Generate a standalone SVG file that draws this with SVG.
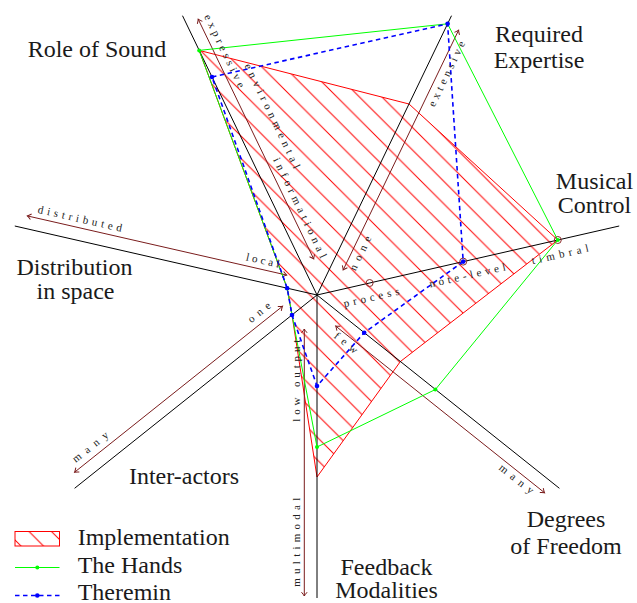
<svg xmlns="http://www.w3.org/2000/svg" width="637" height="603" viewBox="0 0 637 603">
<defs>
<marker id="ah" viewBox="-5 -4 6 8" markerWidth="6" markerHeight="8" refX="0" refY="0" orient="auto-start-reverse" markerUnits="userSpaceOnUse" overflow="visible">
<path d="M-3.8,-2.8 Q-1.2,-0.6 0,0 Q-1.2,0.6 -3.8,2.8" fill="none" stroke="#7a1c1c" stroke-width="1"/>
</marker>
<pattern id="hatch" patternUnits="userSpaceOnUse" x="150" y="0" width="22.5" height="22.5">
<path d="M0,0 L22.5,22.5 M-5,17.5 L5,27.5 M17.5,-5 L27.5,5" stroke="#ff0000" stroke-width="1"/>
</pattern>
</defs>

<g id="implementation">
<polygon fill="url(#hatch)" stroke="#ff0000" stroke-width="1" points="199.2,50.4 409,104 557.8,240 400.4,361.5 317,477 292,315 287.2,288.2"/>
</g>

<g id="axes" stroke="#000" stroke-width="1" fill="none">
<line x1="317" y1="295" x2="182.5" y2="15.7"/>
<line x1="317" y1="295" x2="451.5" y2="15.7"/>
<line x1="317" y1="295" x2="619.2" y2="226"/>
<line x1="317" y1="295" x2="559.4" y2="488.3"/>
<line x1="317" y1="295" x2="317" y2="598"/>
<line x1="317" y1="295" x2="74.6" y2="488.3"/>
<line x1="317" y1="295" x2="14.8" y2="226"/>
</g>

<g id="connectors" stroke="#7a1c1c" stroke-width="1" fill="none" marker-start="url(#ah)" marker-end="url(#ah)">
<line x1="313.7" y1="258.9" x2="198.2" y2="19.2"/>
<line x1="343.2" y1="269.9" x2="458.6" y2="30.2"/>
<line x1="286.7" y1="275.1" x2="27.3" y2="215.9"/>
<line x1="282.5" y1="306.3" x2="74.6" y2="472.2"/>
<line x1="304.3" y1="329" x2="304.3" y2="596"/>
<line x1="335.7" y1="326.1" x2="544.5" y2="492.7"/>
</g>

<g id="musical-marks" fill="none" stroke="#8b2a2a" stroke-width="1">
<circle cx="369.6" cy="283" r="3.5"/>
<circle cx="463.2" cy="261.6" r="3.5"/>
<circle cx="557.8" cy="240" r="3.5"/>
</g>

<g id="the-hands">
<polygon fill="none" stroke="#00ff00" stroke-width="1" points="199.2,50.4 447.6,23.8 557.8,240 435.4,389.5 317,447 292,315 287.2,288.2"/>
<g fill="#00ff00">
<circle cx="199.2" cy="50.4" r="2"/><circle cx="447.6" cy="23.8" r="2"/><circle cx="557.8" cy="240" r="2"/><circle cx="435.4" cy="389.5" r="2"/><circle cx="317" cy="447" r="2"/><circle cx="292" cy="315" r="2"/><circle cx="287.2" cy="288.2" r="2"/>
</g>
</g>

<g id="theremin">
<polygon fill="none" stroke="#0000ff" stroke-width="1.6" stroke-dasharray="4.5 3.5" points="212,77 447.6,23.8 463.2,261.6 364.2,332.7 317,386 292,315 287.2,288.2"/>
<g fill="#0000ff">
<circle cx="212" cy="77" r="2.3"/><circle cx="447.6" cy="23.8" r="2.3"/><circle cx="463.2" cy="261.6" r="2.3"/><circle cx="364.2" cy="332.7" r="2.3"/><circle cx="317" cy="386" r="2.3"/><circle cx="292" cy="315" r="2.3"/><circle cx="287.2" cy="288.2" r="2.3"/>
</g>
</g>

<g id="axis-labels" fill="#222" font-family="'Liberation Serif', 'Times New Roman', serif" font-size="11">
<text transform="translate(203.9,16.5) rotate(64.29)" textLength="80" lengthAdjust="spacing">expressive</text>
<text transform="translate(244.3,65.8) rotate(64.29)" textLength="115" lengthAdjust="spacing">environmental</text>
<text transform="translate(272.9,159.8) rotate(64.29)" textLength="110" lengthAdjust="spacing">informational</text>
<text transform="translate(434.6,107.4) rotate(-64.29)" textLength="71" lengthAdjust="spacing">extensive</text>
<text transform="translate(355.6,271.4) rotate(-64.29)" textLength="37" lengthAdjust="spacing">none</text>
<text transform="translate(344.4,307.2) rotate(-12.86)" textLength="57" lengthAdjust="spacing">process</text>
<text transform="translate(430.2,287.6) rotate(-12.86)" textLength="78" lengthAdjust="spacing">note-level</text>
<text transform="translate(532.6,264.3) rotate(-12.86)" textLength="58" lengthAdjust="spacing">timbral</text>
<text transform="translate(333.2,337.3) rotate(38.57)" textLength="27" lengthAdjust="spacing">few</text>
<text transform="translate(498.2,468.9) rotate(38.57)" textLength="41" lengthAdjust="spacing">many</text>
<text transform="translate(299.5,421.7) rotate(-90)" textLength="82" lengthAdjust="spacing">low output</text>
<text transform="translate(299.5,586.7) rotate(-90)" textLength="89" lengthAdjust="spacing">multimodal</text>
<text transform="translate(251.2,323.2) rotate(-38.57)" textLength="26" lengthAdjust="spacing">one</text>
<text transform="translate(75.8,463.1) rotate(-38.57)" textLength="43" lengthAdjust="spacing">many</text>
<text transform="translate(37.3,212.7) rotate(12.86)" textLength="86" lengthAdjust="spacing">distributed</text>
<text transform="translate(245.5,260.2) rotate(12.86)" textLength="34" lengthAdjust="spacing">local</text>
</g>

<g fill="#1a1a1a" text-anchor="middle" font-family="'Liberation Serif', 'Times New Roman', serif" font-size="24">
<g id="role-of-sound"><text x="97" y="57">Role of Sound</text></g>
<g id="required-expertise"><text x="539" y="42">Required</text><text x="539" y="68">Expertise</text></g>
<g id="musical-control"><text x="594.5" y="189">Musical</text><text x="594.5" y="213">Control</text></g>
<g id="degrees-of-freedom"><text x="566" y="527">Degrees</text><text x="566" y="554">of Freedom</text></g>
<g id="feedback-modalities"><text x="386.5" y="574.5">Feedback</text><text x="386.5" y="598">Modalities</text></g>
<g id="inter-actors"><text x="184" y="483.5">Inter-actors</text></g>
<g id="distribution-in-space"><text x="74.5" y="275">Distribution</text><text x="75.5" y="299">in space</text></g>
</g>

<g id="legend">
<rect fill="url(#hatch)" stroke="#ff0000" stroke-width="1" x="15" y="531.5" width="44.5" height="14.5"/>
<line stroke="#00ff00" stroke-width="1" x1="15" y1="567.5" x2="59.5" y2="567.5"/>
<circle fill="#00ff00" cx="37.3" cy="567.5" r="2"/>
<line stroke="#0000ff" stroke-width="1.6" stroke-dasharray="4.5 3.5" x1="15" y1="595.5" x2="59.5" y2="595.5"/>
<circle fill="#0000ff" cx="37.3" cy="595.5" r="2.3"/>
<g fill="#1a1a1a" font-family="'Liberation Serif', 'Times New Roman', serif" font-size="24">
<text x="77.7" y="544.5">Implementation</text>
<text x="77.7" y="573">The Hands</text>
<text x="77.7" y="599.5">Theremin</text>
</g>
</g>
</svg>
